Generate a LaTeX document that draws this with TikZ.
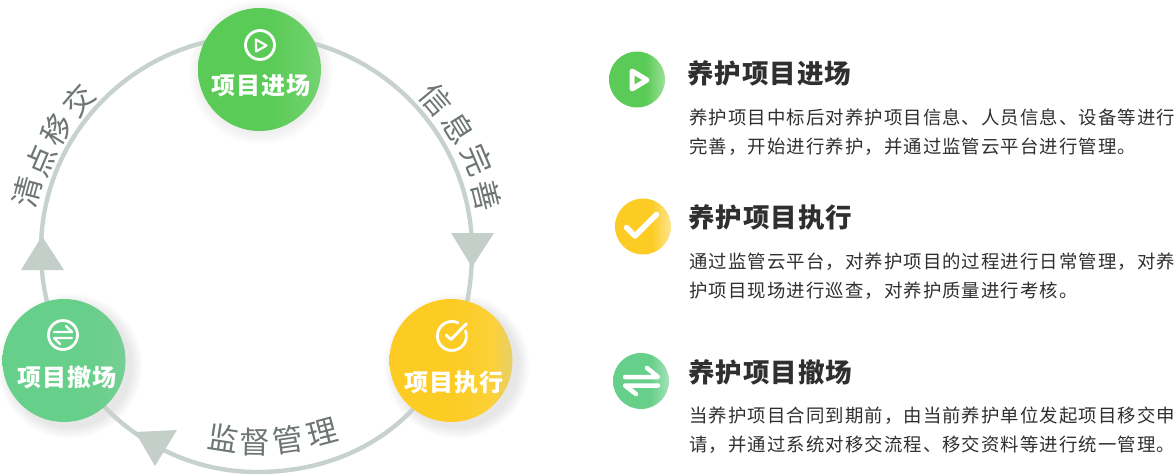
\documentclass[tikz,border=0pt]{standalone}
\usepackage{fontspec}
\setmainfont{Noto Sans CJK SC}
\newfontfamily\bodyfont[LetterSpace=5.9]{Noto Sans CJK SC}
\newfontfamily\titlefont[LetterSpace=3.8]{Noto Sans CJK SC}
\newfontfamily\badgefont[LetterSpace=3]{Noto Sans CJK SC}
\newfontfamily\arcfont{Noto Sans CJK SC}
\definecolor{ringc}{HTML}{C8D2CD}
\definecolor{tipc}{HTML}{C5CFCA}
\definecolor{arcc}{HTML}{6E7673}
\definecolor{ink}{HTML}{2F2F2F}
\definecolor{grn}{HTML}{5BCB57}
\definecolor{yel}{HTML}{FCCC25}
\definecolor{tea}{HTML}{66CF89}
\pgfdeclarehorizontalshading{bigG}{100bp}{color(0bp)=(grn);color(55bp)=(grn);color(75bp)=(grn!85!white);color(100bp)=(grn!85!white)}
\pgfdeclarehorizontalshading{bigY}{100bp}{color(0bp)=(yel);color(52bp)=(yel);color(66bp)=(yel!92!white);color(75bp)=(yel!60!ringc);color(100bp)=(yel!60!ringc)}
\pgfdeclarehorizontalshading{bigT}{100bp}{color(0bp)=(tea);color(58bp)=(tea);color(75bp)=(tea!85!ringc);color(100bp)=(tea!85!ringc)}
\pgfdeclarehorizontalshading{smallG}{100bp}{color(0bp)=(grn);color(58bp)=(grn);color(75bp)=(grn!60!white);color(100bp)=(grn!60!white)}
\pgfdeclarehorizontalshading{smallY}{100bp}{color(0bp)=(yel);color(58bp)=(yel);color(75bp)=(yel!50!white);color(100bp)=(yel!50!white)}
\pgfdeclarehorizontalshading{smallT}{100bp}{color(0bp)=(tea);color(58bp)=(tea);color(75bp)=(tea!60!white);color(100bp)=(tea!60!white)}
\tikzset{
  ring/.style={draw=ringc,line width=4.4pt},
  tip/.style={fill=tipc},
  bigdisc/.style={circle,minimum size=123pt,inner sep=0pt},
  smalldisc/.style={circle,minimum size=56pt,inner sep=0pt},
  badge/.style={text=white,inner sep=0pt,font=\badgefont\bfseries\fontsize{24}{26}\selectfont},
  arcchar/.style={text=arcc,inner sep=0pt,font=\arcfont\fontsize{30.5}{32}\selectfont},
  heading/.style={anchor=west,inner sep=0pt,text=ink,font=\titlefont\bfseries\fontsize{26.5}{29}\selectfont},
  para/.style={anchor=north west,inner sep=0pt,align=left,text=ink,font=\bodyfont\fontsize{18.4}{28.3}\selectfont},
  iconline/.style={draw=white,line width=2.8pt,line cap=round,line join=round},
  keymark/.style={draw=white,line width=5pt,line cap=round,line join=round}
}
\begin{document}
\begin{tikzpicture}[x=1pt,y=-1pt]
\useasboundingbox (0,0) rectangle (1175,474);
% ring anchors
\coordinate (rtop) at (257,36);
\coordinate (rright) at (472,250);
\coordinate (rbottom) at (257,472);
\coordinate (rleft) at (41,250);
% shadows
\foreach \r in {62,63.5,...,73}{
  \fill[black,opacity=.006] (261,72) circle[radius=\r pt];
  \fill[black,opacity=.011] (457,366) circle[radius=\r pt];
  \fill[black,opacity=.011] (70,366) circle[radius=\r pt];
}
% ring
\draw[ring] (rtop) .. controls (375,36) and (472,132) .. (rright);
\draw[ring] (rright) .. controls (472,381) and (384,472) .. (rbottom);
\draw[ring] (rbottom) .. controls (138,472) and (41,372) .. (rleft);
\draw[ring] (rleft) .. controls (41,132) and (138,36) .. (rtop);
% arrowheads
\fill[tip] (451,233) -- (494,233) -- (472,267) -- cycle;
\fill[tip] (21,270) -- (64,270) -- (42,236) -- cycle;
\fill[tip] (135,432) -- (177,430) -- (155,466) -- cycle;
% discs
\node[bigdisc,shading=bigG] (start) at (259.5,69.5) {};
\node[bigdisc,shading=bigY] (run) at (451,360.5) {};
\node[bigdisc,shading=bigT] (leave) at (64,360.5) {};
% disc icons
\node[iconline,circle,minimum size=29pt,inner sep=0pt] (startring) at (260,45) {};
\draw[draw=white,line width=2.2pt,line join=round] (256,39.5) -- (256,51.5) -- (266.5,45.5) -- cycle;
\draw[iconline] (465.5,331) arc[start angle=20,end angle=-295,radius=14.5pt];
\draw[iconline] (446,335) -- (451,339.5) -- (466.5,323.5);
\node[iconline,circle,minimum size=29pt,inner sep=0pt] (leavering) at (63,335) {};
\draw[draw=white,line width=2.2pt,line cap=round,line join=round] (54,332) -- (72,332) -- (66,326);
\draw[draw=white,line width=2.2pt,line cap=round,line join=round] (72,338) -- (54,338) -- (60,344);
% disc labels
\node[badge] (lstart) at (261,86) {项目进场};
\node[badge] (lrun) at (454,382) {项目执行};
\node[badge] (lleave) at (67,377) {项目撤场};
% curved labels
\node[arcchar,rotate=75] (a1) at (27,192) {清};
\node[arcchar,rotate=67] (a2) at (41,161) {点};
\node[arcchar,rotate=58] (a3) at (57,129) {移};
\node[arcchar,rotate=49] (a4) at (79,100) {交};
\node[arcchar,rotate=-50] (b1) at (436,100) {信};
\node[arcchar,rotate=-58] (b2) at (459,128) {息};
\node[arcchar,rotate=-67] (b3) at (477,160) {完};
\node[arcchar,rotate=-76] (b4) at (486,195) {善};
\node[arcchar,rotate=-9] (c1) at (223,438) {监};
\node[arcchar,rotate=-1] (c2) at (255,442) {督};
\node[arcchar,rotate=8] (c3) at (288,440) {管};
\node[arcchar,rotate=15] (c4) at (322,433) {理};
% legend
\node[smalldisc,shading=smallG] (k1) at (637,79.5) {};
\draw[keymark,fill=grn] (632,71) -- (632,89) -- (647,80) -- cycle;
\node[smalldisc,shading=smallY] (k2) at (643,226.5) {};
\draw[keymark,line width=5.5pt] (626.5,227.5) -- (635,236) -- (656.5,214.5);
\node[smalldisc,shading=smallT] (k3) at (641,381) {};
\draw[keymark,line width=4.5pt] (625,377) -- (658,377) -- (647,368);
\draw[keymark,line width=4.5pt] (658,385.5) -- (625,385.5) -- (636,394);
\node[heading] (t1) at (687,73) {养护项目进场};
\node[para] (p1) at (689,109) {养护项目中标后对养护项目信息、人员信息、设备等进行\\完善，开始进行养护，并通过监管云平台进行管理。};
\node[heading] (t2) at (688,217) {养护项目执行};
\node[para] (p2) at (689,253) {通过监管云平台，对养护项目的过程进行日常管理，对养\\护项目现场进行巡查，对养护质量进行考核。};
\node[heading] (t3) at (688,372) {养护项目撤场};
\node[para] (p3) at (689,407) {当养护项目合同到期前，由当前养护单位发起项目移交申\\请，并通过系统对移交流程、移交资料等进行统一管理。};
\end{tikzpicture}
\end{document}
